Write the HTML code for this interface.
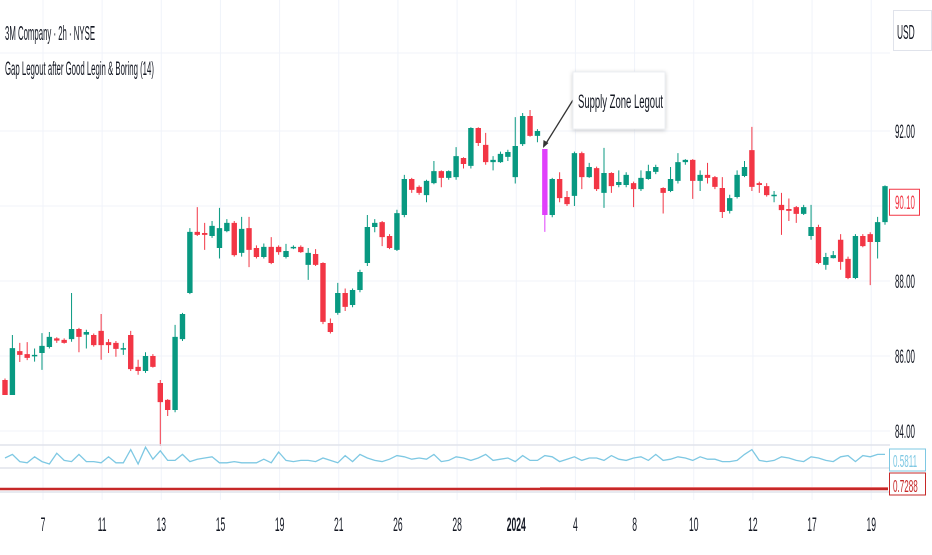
<!DOCTYPE html>
<html><head><meta charset="utf-8">
<style>
html,body{margin:0;padding:0;background:#fff;}
body{width:932px;height:550px;overflow:hidden;font-family:"Liberation Sans",sans-serif;}
svg text{font-family:"Liberation Sans",sans-serif;}
</style></head>
<body>
<svg id="chart" width="932" height="550" xmlns="http://www.w3.org/2000/svg">
  <g id="grid"></g>
  <g id="candles"></g>
  <g id="ind"></g>
  <g id="axes"></g>
  <g>
    <text x="5" y="40" font-size="20" fill="#131722" transform="translate(5,0) scale(0.39,1) translate(-5,0)">3M Company · 2h · NYSE</text>
    <line x1="0" x2="890" y1="53" y2="53" stroke="#f0f3fa" stroke-width="1"/>
    <text x="5" y="75" font-size="19" fill="#131722" transform="translate(5,0) scale(0.41,1) translate(-5,0)">Gap Legout after Good Legin &amp; Boring (14)</text>
  </g>
  <g>
    <rect x="893.5" y="10.5" width="38" height="40" fill="#fff" stroke="#e0e3eb"/>
    <text x="897" y="39" font-size="20" fill="#131722" transform="translate(897,0) scale(0.42,1) translate(-897,0)">USD</text>
  </g>
  <g>
    <line x1="573" y1="100" x2="545" y2="145" stroke="#333" stroke-width="1.3"/>
    <polygon points="543,148 543.5,140 548.5,143" fill="#333"/>
    <rect x="573" y="72" width="92" height="57" fill="#fff" stroke="#eceff3" style="filter:drop-shadow(0 1px 2px rgba(0,0,0,0.2))"/>
    <text x="578" y="108" font-size="19" fill="#131722" transform="translate(578,0) scale(0.5,1) translate(-578,0)">Supply Zone Legout</text>
  </g>
</svg>
<script>
// OHLC data
const opens  = [85.36,84.96,86.13,86.05,86.00,86.08,86.24,86.47,86.43,86.45,86.72,86.57,86.56,86.67,86.37,86.35,86.19,86.56,85.71,85.60,86.00,85.28,84.83,84.56,86.45,87.68,89.31,89.28,89.20,88.88,89.33,89.55,88.75,89.41,88.88,88.64,88.91,88.91,88.64,88.88,88.91,88.43,88.72,88.48,86.88,87.15,87.68,87.36,87.76,88.48,89.44,89.57,89.20,88.83,89.76,90.72,90.51,90.29,90.61,90.93,90.75,90.77,91.28,91.07,92.08,91.63,91.17,91.17,91.31,90.77,91.65,92.40,91.87,91.52,89.76,90.72,90.24,90.27,91.41,90.77,91.01,90.35,90.88,90.56,90.56,90.61,90.45,90.72,90.91,90.48,90.40,90.67,91.17,91.23,90.67,90.83,90.77,90.48,89.87,90.24,90.80,91.49,90.61,90.53,90.27,90.03,89.92,89.97,89.79,89.20,89.44,88.43,88.61,89.10,88.59,88.08,89.20,89.25,89.04,89.57];
const highs  = [85.40,86.56,86.35,86.37,86.20,86.61,86.64,86.50,86.47,87.68,86.75,86.70,86.60,87.12,86.45,86.40,86.35,86.67,85.90,86.10,86.05,85.36,84.85,86.83,87.15,89.41,89.97,89.55,89.60,89.95,89.65,89.60,89.71,89.71,88.95,89.00,89.17,88.95,88.99,88.95,88.95,88.88,88.85,88.50,87.00,87.95,87.80,87.80,88.30,89.76,89.65,89.60,89.25,89.90,90.83,90.75,90.55,90.70,91.20,90.95,90.95,91.57,91.30,92.10,92.10,91.95,91.33,91.45,91.50,92.37,92.48,92.56,92.05,91.52,90.75,90.90,90.40,91.45,91.45,91.15,91.05,91.55,90.90,90.95,90.90,90.65,90.95,91.10,91.10,90.50,91.04,91.41,91.25,91.25,90.95,91.15,90.80,90.77,90.30,90.95,91.20,92.11,90.65,90.61,90.40,90.35,90.20,90.00,90.03,90.03,89.50,88.75,88.80,89.25,88.65,89.25,89.25,89.30,89.71,90.55];
const lows   = [84.96,84.96,85.84,85.89,85.85,85.63,86.20,86.35,86.33,86.38,86.10,86.20,86.25,85.90,86.08,85.98,86.03,85.60,85.50,85.55,85.69,83.60,84.40,84.50,86.40,87.65,89.20,88.83,89.15,88.60,89.30,88.65,88.65,88.37,88.60,88.60,88.45,88.70,88.60,88.85,88.75,88.03,88.40,86.85,86.60,87.10,87.20,87.30,87.70,88.40,89.30,88.93,88.85,88.80,89.70,90.35,90.30,90.10,90.58,90.50,90.70,90.70,91.00,91.00,91.60,91.10,90.95,91.15,91.20,90.60,91.60,91.85,91.70,89.31,89.70,90.10,90.00,90.00,90.45,90.75,90.40,89.95,90.35,90.50,90.50,89.97,90.40,90.70,90.85,89.80,90.37,90.60,91.10,90.19,90.40,90.60,90.45,89.68,89.80,90.20,90.77,90.40,90.35,90.25,90.10,89.23,89.60,89.55,89.76,89.10,88.45,88.30,88.60,88.30,88.05,88.05,88.90,87.89,88.60,89.50];
const closes = [84.96,86.21,86.03,85.95,86.03,86.27,86.51,86.41,86.35,86.72,86.51,86.64,86.29,86.29,86.29,86.19,86.21,85.65,85.60,86.00,85.71,84.77,84.56,86.51,87.12,89.31,89.23,89.23,89.47,89.41,89.55,88.69,89.39,88.83,88.64,88.91,88.48,88.77,88.80,88.91,88.77,88.75,88.43,86.91,86.64,87.68,87.31,87.76,88.24,89.44,89.55,89.17,88.88,89.81,90.72,90.43,90.35,90.67,90.93,90.75,90.93,91.33,91.12,92.08,91.68,91.17,91.23,91.39,91.44,91.60,92.40,91.87,92.00,89.76,90.72,90.21,90.05,91.41,90.77,91.04,90.45,90.88,90.53,90.64,90.83,90.45,90.75,90.93,91.04,90.35,90.72,91.17,91.23,90.67,90.83,90.75,90.51,89.84,90.21,90.83,91.04,90.51,90.56,90.29,90.30,89.89,89.87,89.79,89.97,89.44,88.48,88.64,88.69,88.51,88.08,89.20,88.93,89.04,89.57,90.53];
// signal candle (supply zone legout) indices
const signalIdx = [73];
// indicator values
const ind1 = [0.55,0.58,0.52,0.51,0.56,0.52,0.50,0.59,0.53,0.52,0.58,0.52,0.52,0.51,0.56,0.51,0.51,0.62,0.50,0.64,0.54,0.61,0.53,0.53,0.58,0.52,0.54,0.55,0.56,0.51,0.51,0.52,0.51,0.51,0.51,0.54,0.51,0.60,0.53,0.52,0.53,0.53,0.52,0.55,0.53,0.51,0.57,0.52,0.58,0.55,0.53,0.52,0.54,0.57,0.56,0.54,0.55,0.54,0.58,0.52,0.53,0.56,0.55,0.53,0.55,0.58,0.53,0.54,0.55,0.52,0.57,0.53,0.53,0.57,0.56,0.52,0.54,0.56,0.53,0.55,0.55,0.53,0.57,0.54,0.53,0.55,0.56,0.53,0.58,0.53,0.54,0.56,0.55,0.53,0.56,0.54,0.54,0.52,0.52,0.53,0.58,0.62,0.53,0.52,0.53,0.56,0.55,0.53,0.52,0.56,0.55,0.53,0.52,0.56,0.57,0.52,0.57,0.56,0.58,0.58];
const priceTicks = [92, 88, 86, 84];
const priceTickLabels = ["92.00","88.00","86.00","84.00"];
const lastPrice = 90.10;
const dateTickIdx = [5,13,21,29,37,45,53,61,69,77,85,93,101,109,117];
const dateTickLabels = ["7","11","13","15","19","21","26","28","2024","4","8","10","12","17","19"];

const NS="http://www.w3.org/2000/svg";
function xS(i){return 5 + i*7.395;}
function yS(p){return 131 + (92-p)*37.5;}
function yI(v){return 458 - (v-0.55)*120;}
function mk(tag, attrs, parent){const e=document.createElementNS(NS,tag);for(const k in attrs)e.setAttribute(k,attrs[k]);parent.appendChild(e);return e;}
const grid=document.getElementById('grid'), cg=document.getElementById('candles'), ind=document.getElementById('ind'), ax=document.getElementById('axes');
[92,90,88,86,84].forEach(p=>{const l=mk('line',{x1:0,x2:890,y1:yS(p),y2:yS(p),stroke:'#f0f3fa','stroke-width':1},grid);

});
dateTickIdx.forEach(i=>{const l=mk('line',{x1:xS(i)+1,x2:xS(i)+1,y1:0,y2:500,stroke:'#f0f3fa','stroke-width':1},grid);

});
for(let i=0;i<opens.length;i++){
  const up=closes[i]>=opens[i];
  let col= up?'#089981':'#f23645';
  if(signalIdx.includes(i)) col='#e040fb';
  const g=mk('g',{},cg);
  
  
  const cx=xS(i);
  mk('line',{x1:cx,x2:cx,y1:yS(highs[i]),y2:yS(lows[i]),stroke:col,'stroke-width':1},g);
  const t=yS(Math.max(opens[i],closes[i])), b=yS(Math.min(opens[i],closes[i]));
  mk('rect',{x:cx-2.7,y:t,width:5.4,height:Math.max(1.5,b-t),fill:col},g);
}
[445,468,492].forEach(y=>{const l=mk('line',{x1:0,x2:890,y1:y,y2:y,stroke:'#e0e3eb','stroke-width':1.5},ind);

});
let d='';ind1.forEach((v,i)=>{d+=(i?'L':'M')+xS(i)+','+yI(v);});
const p1=mk('path',{d:d,fill:'none',stroke:'#7ec8e3','stroke-width':1.3},ind);


const p2=mk('line',{x1:0,x2:888,y1:489,y2:489,stroke:'#c62828','stroke-width':2.5},ind);


mk('line',{x1:540,x2:888,y1:487.5,y2:487.5,stroke:'#e57373','stroke-width':1},ind);
priceTicks.forEach((p,k)=>{const t=mk('text',{x:895,y:yS(p)+7,'font-size':19,fill:'#131722',transform:`translate(895,0) scale(0.42,1) translate(-895,0)`},ax);t.textContent=priceTickLabels[k];

});
const lb=mk('rect',{x:889.5,y:yS(lastPrice)-13,width:30,height:26,fill:'#fff',stroke:'#f23645','stroke-width':1},ax);


const lt=mk('text',{x:895,y:yS(lastPrice)+7,'font-size':19,fill:'#f23645',transform:'translate(895,0) scale(0.42,1) translate(-895,0)'},ax);lt.textContent=lastPrice.toFixed(2);


const b1=mk('rect',{x:889.5,y:449,width:36,height:22,fill:'#fff',stroke:'#7ec8e3'},ax);


const t1=mk('text',{x:893,y:467,'font-size':18,fill:'#7ec8e3',transform:'translate(893,0) scale(0.45,1) translate(-893,0)'},ax);t1.textContent='0.5811';


const b2=mk('rect',{x:889.5,y:473,width:36,height:22,fill:'#fff',stroke:'#c62828'},ax);


const t2=mk('text',{x:893,y:492,'font-size':18,fill:'#c62828',transform:'translate(893,0) scale(0.45,1) translate(-893,0)'},ax);t2.textContent='0.7288';


dateTickIdx.forEach((i,k)=>{const x=xS(i)+1;const t=mk('text',{x:x,y:531,'font-size':19,'text-anchor':'middle',fill:'#131722','font-weight':dateTickLabels[k]==='2024'?'bold':'normal',transform:`translate(${x},0) scale(0.45,1) translate(${-x},0)`},ax);t.textContent=dateTickLabels[k];

});
</script>
</body></html>
